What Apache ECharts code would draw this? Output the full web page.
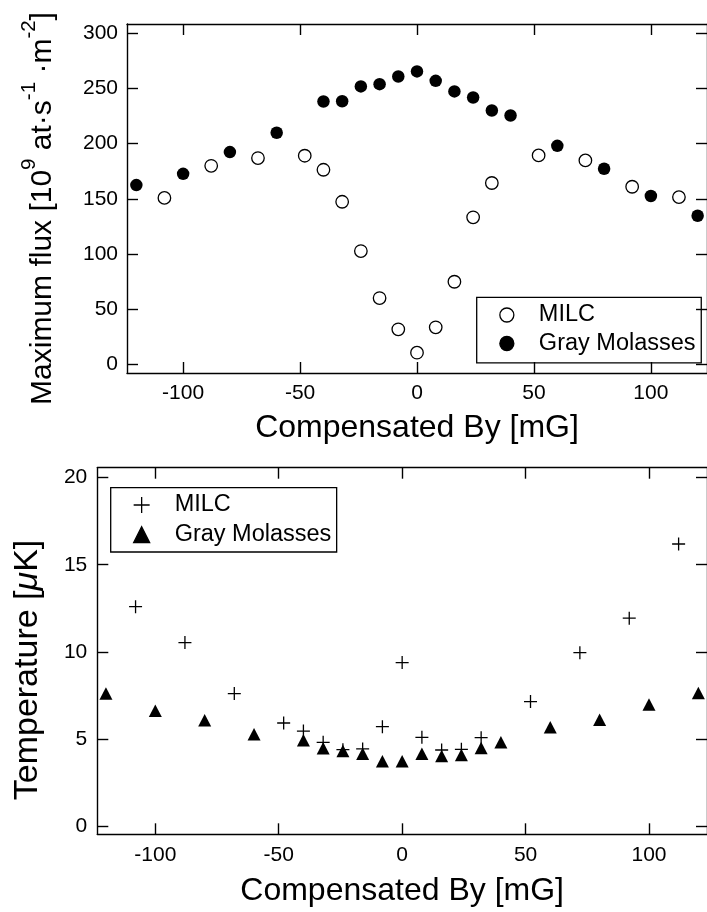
<!DOCTYPE html>
<html>
<head>
<meta charset="utf-8">
<script src="https://cdn.jsdelivr.net/npm/echarts@6/dist/echarts.min.js"></script>
<style>
  html, body { margin: 0; padding: 0; background: #fff; }
  #chart { width: 707px; height: 912px; }
</style>
</head>
<body>
<div id="chart"></div>
<script>
// Compensation-field scan (mG): peak atom flux and temperature, MILC vs gray molasses
const fieldMILC = [-108, -88, -68, -48, -40, -32, -24, -16, -8, 0, 8, 16, 24, 32, 52, 72, 92, 112];
const fieldGM = [-120, -100, -80, -60, -40, -32, -24, -16, -8, 0, 8, 16, 24, 32, 40, 60, 80, 100, 120];

const fluxMILC = [150.8, 179.9, 186.9, 189.0, 176.3, 147.3, 102.6, 60.0, 31.7, 10.5, 33.5, 74.8, 133.2, 164.3, 189.3, 184.8, 160.9, 151.5];
const fluxGM = [162.4, 172.6, 192.3, 209.8, 238.2, 238.4, 251.8, 253.9, 260.8, 265.4, 256.9, 247.3, 241.8, 230.0, 225.5, 198.0, 177.2, 152.5, 134.6];

const tempMILC = [12.59, 10.53, 7.60, 5.91, 5.45, 4.80, 4.38, 4.42, 5.70, 9.38, 5.09, 4.36, 4.40, 5.07, 7.14, 9.95, 11.93, 16.19];
const tempGM = [7.60, 6.62, 6.07, 5.27, 4.92, 4.46, 4.31, 4.15, 3.71, 3.71, 4.15, 4.02, 4.08, 4.48, 4.80, 5.67, 6.10, 6.97, 7.64];

const fieldTicks = [-100, -50, 0, 50, 100];
const fluxTicks = [0, 50, 100, 150, 200, 250, 300];
const tempTicks = [0, 5, 10, 15, 20];

const seriesLabels = {
  fluxMILC: 'MILC', fluxGM: 'Gray Molasses',
  tempMILC: 'MILC', tempGM: 'Gray Molasses'
};

const FONT = '"Liberation Sans", Arial, Helvetica, sans-serif';
const INK = '#000';
const LINE_W = 1.4;
const TICK_LEN = 11;

function pairs(xs, ys) { return xs.map((x, i) => [x, ys[i]]); }

// One side of the boxed frame: ticks point inward, labels only on the main sides
function frameAxis(extra) {
  return Object.assign({
    type: 'value',
    scale: true,
    axisLine: { show: true, onZero: false, lineStyle: { color: INK, width: LINE_W } },
    axisTick: { show: true, inside: true, length: TICK_LEN, lineStyle: { color: INK, width: LINE_W } },
    splitLine: { show: false },
    axisLabel: { show: false }
  }, extra);
}

function tickLabels(values, margin) {
  return { show: true, customValues: values, margin: margin, color: INK, fontSize: 21, fontFamily: FONT };
}

function tickMarks(values) {
  return { show: true, customValues: values, inside: true, length: TICK_LEN, lineStyle: { color: INK, width: LINE_W } };
}

const titleStyle = { color: INK, fontSize: 32, fontFamily: FONT };

const legendCommon = {
  orient: 'vertical',
  selectedMode: false,
  align: 'left',
  borderColor: INK,
  borderWidth: 1.3,
  formatter: (name) => seriesLabels[name],
  textStyle: { color: INK, fontSize: 23.5, fontFamily: FONT, lineHeight: 24, padding: [0, 0, 0, 20] },
  itemStyle: { borderWidth: 1.3, opacity: 1 }
};

const markerBase = { silent: true, emphasis: { disabled: true } };

const option = {
  backgroundColor: '#fff',
  animation: false,
  grid: [
    { left: 127, top: 24, width: 586, height: 349 },
    { left: 97.3, top: 467.7, width: 616.8, height: 366.6 }
  ],
  xAxis: [
    frameAxis({
      gridIndex: 0, position: 'bottom', min: -124, max: 124,
      axisTick: tickMarks(fieldTicks), axisLabel: tickLabels(fieldTicks, 10),
      name: 'Compensated By [mG]', nameLocation: 'middle', nameGap: 39, nameTextStyle: titleStyle
    }),
    frameAxis({ gridIndex: 0, position: 'top', min: -124, max: 124, axisTick: tickMarks(fieldTicks) }),
    frameAxis({
      gridIndex: 1, position: 'bottom', min: -123.5, max: 123.5,
      axisTick: tickMarks(fieldTicks), axisLabel: tickLabels(fieldTicks, 10),
      name: 'Compensated By [mG]', nameLocation: 'middle', nameGap: 40.5, nameTextStyle: titleStyle
    }),
    frameAxis({ gridIndex: 1, position: 'top', min: -123.5, max: 123.5, axisTick: tickMarks(fieldTicks) })
  ],
  yAxis: [
    frameAxis({
      gridIndex: 0, position: 'left', min: -7.9, max: 308.4,
      axisTick: tickMarks(fluxTicks), axisLabel: tickLabels(fluxTicks, 9),
      name: '{m|Maximum flux [10}{s|9}{m| at·s}{s|-1}{m| ·m}{s|-2}{m|]}',
      nameLocation: 'middle', nameGap: 60.5,
      nameTextStyle: {
        color: INK, fontFamily: FONT, fontSize: 30, padding: [0, 20, 0, 0],
        rich: {
          m: { color: INK, fontFamily: FONT, fontSize: 30, lineHeight: 48 },
          s: { color: INK, fontFamily: FONT, fontSize: 20.5, lineHeight: 14, verticalAlign: 'top' }
        }
      }
    }),
    frameAxis({ gridIndex: 0, position: 'right', min: -7.9, max: 308.4, axisTick: tickMarks(fluxTicks) }),
    frameAxis({
      gridIndex: 1, position: 'left', min: -0.48, max: 20.57,
      axisTick: tickMarks(tempTicks), axisLabel: tickLabels(tempTicks, 10),
      name: '{m|Temperature [}{i|μ}{m|K]}',
      nameLocation: 'middle', nameGap: 52.8,
      nameTextStyle: {
        color: INK, fontFamily: FONT, fontSize: 34, padding: [0, 38, 0, 0],
        rich: {
          m: { color: INK, fontFamily: FONT, fontSize: 34, lineHeight: 34 },
          i: { color: INK, fontFamily: FONT, fontSize: 34, lineHeight: 34, fontStyle: 'italic' }
        }
      }
    }),
    frameAxis({ gridIndex: 1, position: 'right', min: -0.48, max: 20.57, axisTick: tickMarks(tempTicks) })
  ],
  legend: [
    Object.assign({}, legendCommon, {
      data: ['fluxMILC', 'fluxGM'],
      left: 476.7, top: 297.3,
      itemWidth: 14, itemHeight: 14, itemGap: 4.5,
      padding: [5.7, 5.7, 7.3, 22.5]
    }),
    Object.assign({}, legendCommon, {
      data: ['tempMILC', 'tempGM'],
      left: 110.7, top: 487.7,
      itemWidth: 16, itemHeight: 16, itemGap: 5.7,
      padding: [5.3, 5.3, 5.3, 22.3]
    })
  ],
  series: [
    Object.assign({
      type: 'scatter', name: 'fluxMILC', xAxisIndex: 0, yAxisIndex: 0,
      data: pairs(fieldMILC, fluxMILC),
      symbol: 'circle', symbolSize: 12.5,
      itemStyle: { color: '#fff', borderColor: INK, borderWidth: 1.3, opacity: 1 }
    }, markerBase),
    Object.assign({
      type: 'scatter', name: 'fluxGM', xAxisIndex: 0, yAxisIndex: 0,
      data: pairs(fieldGM, fluxGM),
      symbol: 'circle', symbolSize: 12.5,
      itemStyle: { color: INK, borderColor: INK, borderWidth: 0, opacity: 1 }
    }, markerBase),
    Object.assign({
      type: 'scatter', name: 'tempGM', xAxisIndex: 2, yAxisIndex: 2,
      data: pairs(fieldGM, tempGM),
      symbol: 'triangle', symbolSize: [13, 12.5],
      itemStyle: { color: INK, borderColor: INK, borderWidth: 0, opacity: 1 }
    }, markerBase),
    Object.assign({
      type: 'scatter', name: 'tempMILC', xAxisIndex: 2, yAxisIndex: 2,
      data: pairs(fieldMILC, tempMILC),
      symbol: 'path://M0,5L10,5M5,0L5,10', symbolSize: 13,
      itemStyle: { color: INK, borderColor: INK, borderWidth: 1.3, opacity: 1 }
    }, markerBase)
  ]
};

const chart = echarts.init(document.getElementById('chart'), null, { renderer: 'canvas' });
chart.setOption(option);
</script>
</body>
</html>
